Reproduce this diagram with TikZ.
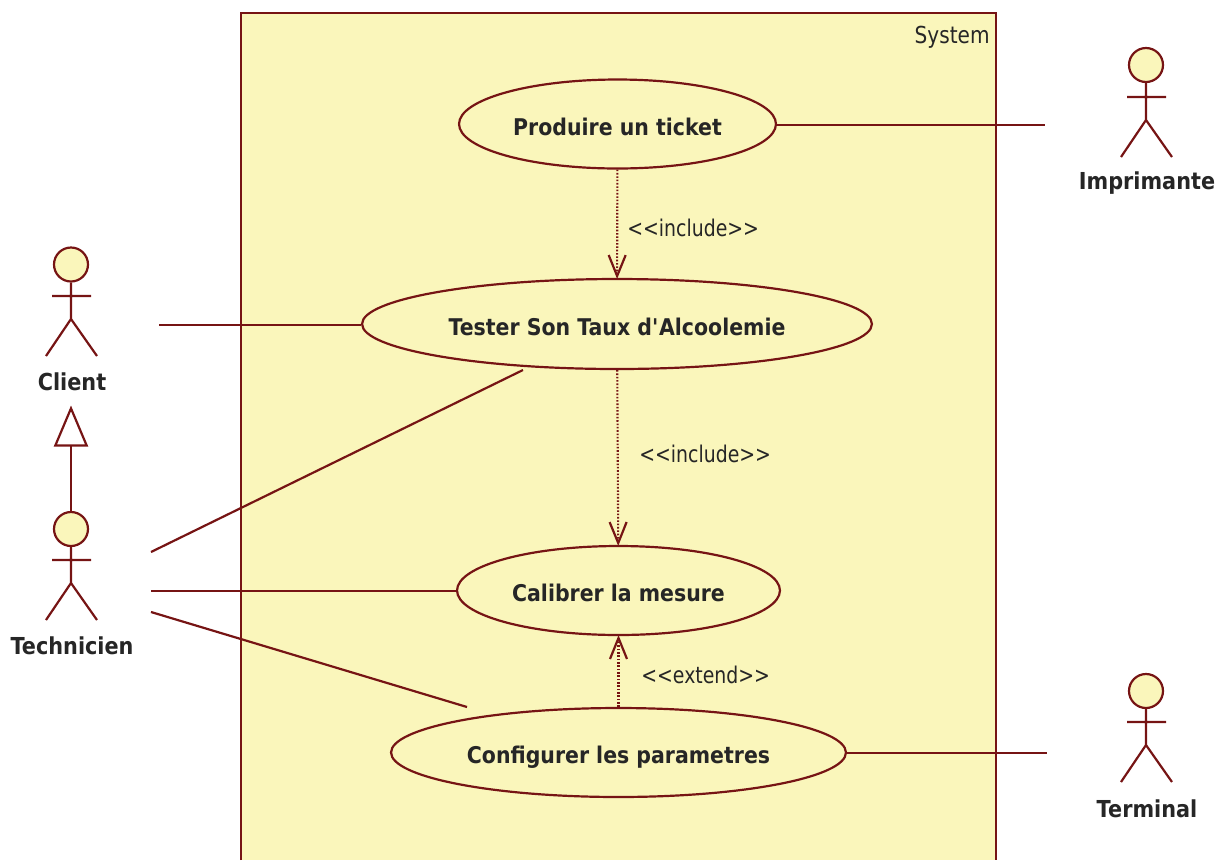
\documentclass[tikz,border=0pt]{standalone}
\usepackage{fontspec}
\setmainfont{DejaVu Sans}[FakeStretch=0.86,BoldFeatures={FakeStretch=0.89}]
\newfontfamily\stereofont{DejaVu Sans}[FakeStretch=0.82]
\usetikzlibrary{shapes.geometric,arrows.meta}
\definecolor{umlline}{HTML}{761414}
\definecolor{umlfill}{HTML}{FAF6BB}
\definecolor{umltext}{HTML}{262626}
\tikzset{
    umlpen/.style={draw=umlline,line width=1.25pt},
    usecase/.style={ellipse,umlpen,fill=umlfill,inner sep=0pt,text=umltext,text height=15.4pt,text depth=2.4pt,font=\fontsize{13.1}{15}\selectfont\bfseries},
    head/.style={circle,umlpen,fill=umlfill,inner sep=0pt,minimum size=.68cm},
    actorname/.style={text=umltext,inner sep=0pt,font=\fontsize{13.3}{15}\selectfont\bfseries},
    stereo/.style={text=umltext,inner sep=0pt,font=\fontsize{13.1}{15}\selectfont\stereofont},
    assoc/.style={umlpen},
    depline/.style={draw=umlline,line width=1.2pt,dash pattern=on .9pt off 1pt,shorten >=-.6pt,-{Straight Barb[length=.42cm,width=.34cm,line width=1.25pt]}},
    genline/.style={umlpen,-{Triangle[open,length=.82cm,width=.68cm,line width=1.25pt]}}
}
\begin{document}
\begin{tikzpicture}[x=.02cm,y=-.02cm]
        \useasboundingbox (0,0) rectangle (1218,860);
        % system frame
        \fill[umlfill] (241,13) rectangle (996,860);
        \draw[umlpen] (241,860) -- (241,13) -- (996,13) -- (996,860);
        \node[inner sep=0pt,text=umltext,font=\fontsize{13.3}{15}\selectfont,anchor=east] (system) at (990,37) {System};
        % use cases
        \node[usecase,minimum width=6.34cm,minimum height=1.78cm] (ticket) at (617.5,124) {Produire un ticket};
        \node[usecase,minimum width=10.2cm,minimum height=1.8cm] (tester) at (617,324) {Tester Son Taux d\textquotesingle Alcoolemie};
        \node[usecase,minimum width=6.46cm,minimum height=1.78cm] (calibrer) at (618.5,590.5) {Calibrer la mesure};
        \node[usecase,minimum width=9.1cm,minimum height=1.78cm] (config) at (618.5,752.5) {Configurer les parametres};
        % actors
        \node[head] (clientHead) at (71,264.5) {};
        \draw[umlpen] (clientHead.south) -- (71,319) (52,296) -- (91,296) (46,356) -- (71,319) -- (97,356);
        \node[actorname] (client) at (72,382) {Client};
        \node[head] (techHead) at (71,529) {};
        \draw[umlpen] (techHead.south) -- (71,583) (52,560) -- (91,560) (46,620) -- (71,583) -- (97,620);
        \node[actorname] (tech) at (72,646) {Technicien};
        \node[head] (printerHead) at (1146,65) {};
        \draw[umlpen] (printerHead.south) -- (1146,120) (1127,97) -- (1166,97) (1121,157) -- (1146,120) -- (1172,157);
        \node[actorname] (printer) at (1147,183) {Imprimante};
        \node[head] (terminalHead) at (1146,691) {};
        \draw[umlpen] (terminalHead.south) -- (1146,745) (1127,722) -- (1166,722) (1121,782) -- (1146,745) -- (1172,782);
        \node[actorname] (terminal) at (1147,808.5) {Terminal};
        % free ends of the associations
        \coordinate (clientEnd) at (159,325);
        \coordinate (techTop) at (151,552);
        \coordinate (testerEnd) at (523,370);
        \coordinate (techMid) at (151,591);
        \coordinate (techLow) at (151,612);
        \coordinate (configEnd) at (467,707);
        \coordinate (printerEnd) at (1045,125);
        \coordinate (terminalEnd) at (1047,753);
        % associations
        \draw[assoc] (clientEnd) -- (tester.west |- clientEnd);
        \draw[assoc] (techTop) -- (testerEnd);
        \draw[assoc] (techMid) -- (calibrer.west |- techMid);
        \draw[assoc] (techLow) -- (configEnd);
        \draw[assoc] (ticket.east |- printerEnd) -- (printerEnd);
        \draw[assoc] (config.east |- terminalEnd) -- (terminalEnd);
        % dependencies
        \draw[depline] (ticket) -- (tester);
        \draw[depline] (tester) -- (calibrer);
        \draw[depline] (config) -- (calibrer);
        \node[stereo,anchor=west] (incA) at (627,228) {<{}<include>{}>};
        \node[stereo,anchor=west] (incB) at (639,454) {<{}<include>{}>};
        \node[stereo,anchor=west] (ext) at (641,675) {<{}<extend>{}>};
        % generalisation
        \draw[genline] (techHead.north) -- (71,405.5);
\end{tikzpicture}
\end{document}
